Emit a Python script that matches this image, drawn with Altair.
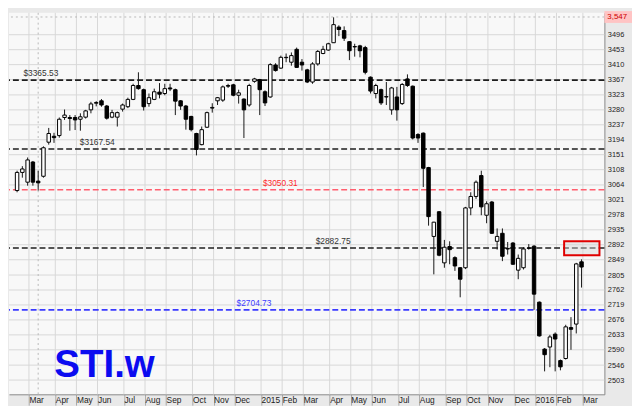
import altair as alt
import pandas as pd

# weekly candles, Feb 2014 .. Mar 2016
opens = [
    3048, 3100, 3072, 3130, 3075, 3089, 3187, 3204, 3206, 3258,
    3258, 3258, 3253, 3259, 3280, 3299, 3306, 3291, 3259, 3259,
    3282, 3289, 3310, 3350, 3338, 3298, 3310, 3331, 3327, 3343,
    3338, 3306, 3291, 3261, 3212, 3180, 3230, 3285, 3306, 3308,
    3350, 3352, 3322, 3311, 3294, 3362, 3367, 3332, 3317, 3409,
    3400, 3430, 3417, 3454, 3417, 3395, 3360, 3412, 3442, 3452,
    3473, 3518, 3508, 3476, 3462, 3464, 3459, 3374, 3327, 3338,
    3318, 3280, 3317, 3298, 3369, 3348, 3209, 3213, 3114, 2916,
    2987, 2840, 2887, 2855, 2826, 2826, 2998, 3031, 3091, 2977,
    3015, 2902, 2925, 2881, 2897, 2819, 2826, 2883, 2888, 2727,
    2592, 2598, 2635, 2559, 2565, 2654, 2664, 2843,
]
highs = [
    3105, 3118, 3143, 3133, 3105, 3175, 3228, 3214, 3258, 3281,
    3265, 3265, 3270, 3280, 3303, 3305, 3311, 3294, 3280, 3275,
    3298, 3315, 3355, 3388, 3341, 3327, 3341, 3357, 3355, 3355,
    3341, 3308, 3294, 3263, 3214, 3232, 3275, 3299, 3317, 3350,
    3355, 3355, 3338, 3313, 3355, 3372, 3369, 3336, 3414, 3414,
    3436, 3442, 3445, 3459, 3426, 3398, 3417, 3452, 3464, 3473,
    3546, 3523, 3520, 3478, 3470, 3467, 3464, 3376, 3355, 3341,
    3360, 3346, 3346, 3357, 3382, 3350, 3213, 3215, 3116, 2958,
    2989, 2906, 2902, 2859, 2828, 3001, 3043, 3077, 3105, 3017,
    3018, 2939, 2939, 2900, 2900, 2864, 2885, 2894, 2891, 2729,
    2595, 2633, 2640, 2562, 2662, 2684, 2840, 2850,
]
lows = [
    3043, 3085, 3062, 3062, 3048, 3085, 3180, 3185, 3200, 3251,
    3220, 3222, 3220, 3255, 3270, 3290, 3289, 3252, 3256, 3232,
    3275, 3285, 3308, 3338, 3278, 3289, 3308, 3313, 3322, 3334,
    3265, 3280, 3223, 3218, 3149, 3178, 3228, 3272, 3294, 3303,
    3343, 3319, 3298, 3199, 3289, 3358, 3265, 3291, 3315, 3390,
    3398, 3417, 3407, 3401, 3393, 3357, 3355, 3407, 3440, 3450,
    3473, 3492, 3478, 3423, 3433, 3431, 3382, 3327, 3313, 3294,
    3294, 3266, 3249, 3294, 3346, 3195, 3185, 3058, 2947, 2807,
    2859, 2826, 2836, 2817, 2741, 2822, 2977, 3024, 2977, 2954,
    2923, 2878, 2845, 2864, 2834, 2793, 2821, 2878, 2705, 2628,
    2528, 2540, 2528, 2531, 2562, 2590, 2637, 2769,
]
closes = [
    3100, 3110, 3136, 3072, 3070, 3171, 3212, 3200, 3253, 3265,
    3255, 3251, 3260, 3277, 3297, 3301, 3294, 3256, 3272, 3272,
    3294, 3310, 3350, 3341, 3289, 3315, 3332, 3325, 3341, 3340,
    3305, 3291, 3253, 3223, 3166, 3223, 3272, 3287, 3315, 3346,
    3348, 3322, 3329, 3280, 3350, 3369, 3338, 3300, 3410, 3393,
    3431, 3431, 3436, 3402, 3409, 3360, 3412, 3448, 3454, 3470,
    3525, 3511, 3486, 3450, 3461, 3450, 3388, 3334, 3350, 3300,
    3317, 3343, 3280, 3353, 3350, 3199, 3199, 3112, 2973, 2957,
    2862, 2885, 2878, 2831, 2793, 2998, 3031, 3072, 3001, 3010,
    2925, 2916, 2859, 2880, 2836, 2853, 2880, 2882, 2750, 2630,
    2576, 2627, 2621, 2541, 2656, 2649, 2837, 2828,
]
weeks = list(range(len(opens)))

# month ticks on the week axis
month_pos = [2.25, 7.25, 11.25, 15.25, 20.25, 24.25, 28.25, 33.25, 37.25,
             41.25, 46.25, 50.25, 54.25, 59.25, 63.25, 67.25, 72.25, 76.25,
             81.25, 85.25, 89.25, 94.25, 98.25, 102.25, 107.25]
month_labels = ["Mar", "Apr", "May", "Jun", "Jul", "Aug", "Sep", "Oct", "Nov",
                "Dec", "2015", "Feb", "Mar", "Apr", "May", "Jun", "Jul", "Aug",
                "Sep", "Oct", "Nov", "Dec", "2016", "Feb", "Mar"]
price_ticks = [2503, 2546, 2590, 2633, 2676, 2719, 2762, 2805, 2849, 2892,
               2935, 2978, 3021, 3064, 3108, 3151, 3194, 3237, 3280, 3323,
               3367, 3410, 3453, 3496]

# support / resistance levels
level_values = [3365.53, 3167.54, 3050.31, 2882.75, 2704.73]
level_names = ["$3365.53", "$3167.54", "$3050.31", "$2882.75", "$2704.73"]
level_line_colors = ["#1e1e1e", "#1e1e1e", "#ff5f6f", "#1e1e1e", "#3b3bff"]
level_text_colors = ["#333333", "#333333", "#ff2b2b", "#333333", "#3b3bff"]
level_label_week = [1.2, 11.9, 46.6, 56.6, 41.6]

peak_value = 3547
peak_label = "3,547"
marker_week = 4
box_weeks = [103.7, 110.4]
box_prices = [2862, 2902]
title_text = "STI.w"

candles = pd.DataFrame(
    {"week": weeks, "open": opens, "high": highs, "low": lows, "close": closes}
)
levels = pd.DataFrame(
    {
        "value": level_values,
        "name": level_names,
        "line_color": level_line_colors,
        "text_color": level_text_colors,
        "week": level_label_week,
    }
)

x_scale = alt.Scale(domain=[-0.6, 110.4], nice=False, zero=False)
y_scale = alt.Scale(domain=[2462, 3559], nice=False, zero=False)

# leading space keeps the label clear of its tick line
labels_js = "[" + ",".join(f"' {m}'" for m in month_labels) + "]"
pos_js = "[" + ",".join(str(p) for p in month_pos) + "]"

# the same axis objects go on every layer so the shared axes merge cleanly
x_axis = alt.Axis(
    values=month_pos,
    labelExpr=f"{labels_js}[indexof({pos_js}, datum.value)]",
    title=None,
    grid=False,
    ticks=True,
    tickSize=11,
    tickColor="#a8a8a8",
    labelPadding=-10,
    labelAlign="left",
    labelBaseline="top",
    labelFontSize=8.5,
    labelFont="Liberation Sans",
    labelColor="#222222",
    labelOverlap=False,
    labelFlush=False,
    labelSeparation=0,
    domainColor="#8a8a8a",
)
y_axis = alt.Axis(
    orient="right",
    values=price_ticks,
    format="d",
    title=None,
    grid=False,
    ticks=False,
    labelPadding=3,
    labelAlign="left",
    labelFontSize=7.5,
    labelFont="Liberation Sans",
    labelColor="#222222",
    labelOverlap=False,
    labelFlush=False,
    labelSeparation=0,
    domainColor="#8a8a8a",
)


def xq(field):
    return alt.X(field, type="quantitative", scale=x_scale, axis=x_axis)


def yq(field):
    return alt.Y(field, type="quantitative", scale=y_scale, axis=y_axis)


# grid drawn as rules at the tick positions
grid_x = (
    alt.Chart(pd.DataFrame({"m": month_pos}))
    .mark_rule(color="#d7d7d7", strokeWidth=1)
    .encode(x=xq("m"))
)
grid_y = (
    alt.Chart(pd.DataFrame({"p": price_ticks}))
    .mark_rule(color="#d7d7d7", strokeWidth=1)
    .encode(y=yq("p"))
)

bodies = (
    alt.Chart(candles)
    .mark_bar(size=3.5, stroke="#000000", strokeWidth=1)
    .encode(
        x=xq("week"),
        y=yq("open"),
        y2="close:Q",
        fill=alt.condition(
            "datum.close >= datum.open", alt.value("#ffffff"), alt.value("#000000")
        ),
    )
)

wicks = (
    alt.Chart(candles)
    .mark_rule(color="#161616", strokeWidth=1)
    .encode(x=xq("week"), y=yq("low"), y2="high:Q")
)

peak_line = (
    alt.Chart(pd.DataFrame({"v": [peak_value]}))
    .mark_rule(color="#b8b8b8", strokeDash=[2, 3], strokeWidth=1)
    .encode(y=yq("v"))
)

marker_line = (
    alt.Chart(pd.DataFrame({"w": [marker_week]}))
    .mark_rule(color="#b8b8b8", strokeDash=[2, 3], strokeWidth=1)
    .encode(x=xq("w"))
)

level_lines = (
    alt.Chart(levels)
    .mark_rule(strokeDash=[6, 3], strokeWidth=1.6)
    .encode(y=yq("value"), color=alt.Color("line_color:N", scale=None))
)

level_text = (
    alt.Chart(levels)
    .mark_text(align="left", baseline="middle", dy=-7, fontSize=8.5,
               font="Liberation Sans")
    .encode(
        x=xq("week"),
        y=yq("value"),
        text="name:N",
        color=alt.Color("text_color:N", scale=None),
    )
)

box = (
    alt.Chart(
        pd.DataFrame(
            {"x1": [box_weeks[0]], "x2": [box_weeks[1]],
             "y1": [box_prices[0]], "y2": [box_prices[1]]}
        )
    )
    .mark_rect(fill="#d6d6d6", fillOpacity=0.45, stroke="#e00000", strokeWidth=2)
    .encode(x=xq("x1"), x2="x2:Q", y=yq("y1"), y2="y2:Q")
)

peak_df = pd.DataFrame({"v": [peak_value], "t": [peak_label]})
peak_box = (
    alt.Chart(peak_df)
    .mark_tick(color="#ffc4c4", size=28, thickness=12, opacity=1)
    .encode(y=yq("v"), x=alt.value(618))
)
peak_text = (
    alt.Chart(peak_df)
    .mark_text(align="left", baseline="middle", fontSize=8, color="#cc0000",
               font="Liberation Sans")
    .encode(y=yq("v"), x=alt.value(607), text="t:N")
)

title_mark = (
    alt.Chart(pd.DataFrame({"t": [title_text]}))
    .mark_text(align="left", baseline="alphabetic", fontSize=39,
               fontWeight="bold", color="#0b0bf0", font="Liberation Sans")
    .encode(x=alt.value(46), y=alt.value(369), text="t:N")
)

chart = (
    alt.layer(
        grid_x, grid_y, peak_line, marker_line, level_lines, wicks, bodies,
        level_text, box, peak_box, peak_text, title_mark,
    )
    .properties(width=604, height=387, padding=0, background="#e9e9e9")
    .configure_view(fill="#f8f8f8", strokeWidth=0)
)

chart.save("out.html", embed_options={"renderer": "svg", "actions": False})
